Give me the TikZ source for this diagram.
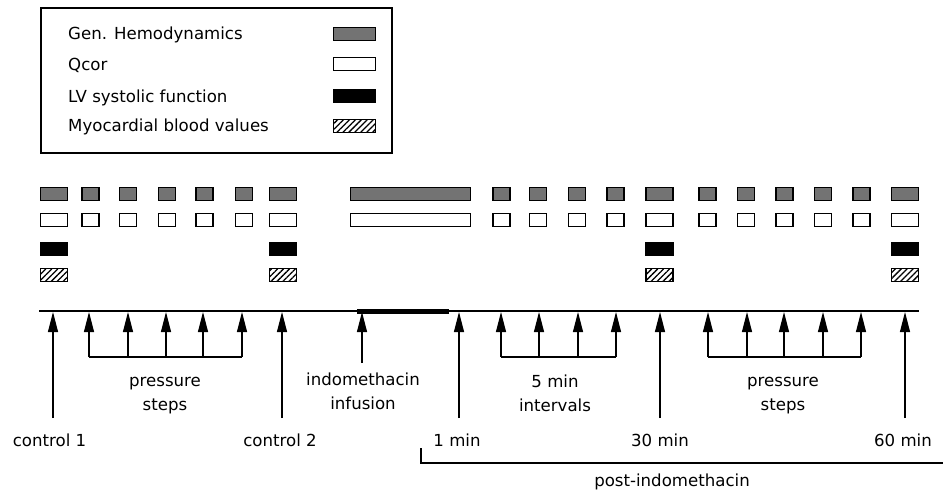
\documentclass[tikz,border=0pt]{standalone}
\usepackage{fontspec}
\setmainfont{DejaVu Sans}
\usetikzlibrary{positioning,arrows.meta,patterns.meta}

\begin{document}
\begin{tikzpicture}[x=1pt,y=-1pt,
  txt/.style={font=\fontsize{16.6}{24}\selectfont,inner sep=0pt,align=center},
  swatch/.style={draw=black,line width=1.3pt,minimum height=12.5pt,inner sep=0pt},
  hemo/.style={swatch,fill=black!55},
  qcor/.style={swatch,fill=white},
  lvf/.style={swatch,fill=black},
  myo/.style={swatch,pattern={Lines[angle=45,distance=4.2pt,line width=1.3pt]}},
  big/.style={minimum width=27pt},
  small/.style={minimum width=17pt},
  ptr/.style={-{Triangle[length=20pt,width=10pt]},line width=1.1pt}]
\useasboundingbox (0,0) rectangle (943,493);

% legend
\draw[line width=1.2pt] (41,8) rectangle (392,153);
\node[txt,anchor=base west] (lg1) at (68,39) {Gen. Hemodynamics};
\node[txt,anchor=base west] (lg2) at (68,70) {Qcor};
\node[txt,anchor=base west] (lg3) at (68,102) {LV systolic function};
\node[txt,anchor=base west] (lg4) at (68,131) {Myocardial blood values};
\node[hemo,minimum width=42pt] (ls1) at (354.5,34) {};
\node[qcor,minimum width=42pt] (ls2) at (354.5,64) {};
\node[lvf,minimum width=42pt] (ls3) at (354.5,96) {};
\node[myo,minimum width=42pt] (ls4) at (354.5,126) {};

% measurements
\foreach \x [count=\i] in {54,283,659.5,905}
{
\node[hemo,big] (hb\i) at (\x,194) {};
\node[qcor,big] (qb\i) at (\x,220) {};
\node[lvf,big] (vb\i) at (\x,249) {};
\node[myo,big] (mb\i) at (\x,275) {};
}
\foreach \x [count=\i] in {90.5,128,167,204.5,244,501.5,538,577,615.5,707.5,746,784.5,823,861.5}
{
\node[hemo,small] (hs\i) at (\x,194) {};
\node[qcor,small] (qs\i) at (\x,220) {};
}
\node[hemo,minimum width=120pt] (hl) at (410.5,194) {};
\node[qcor,minimum width=120pt] (ql) at (410.5,220) {};

% time line
\coordinate (t0) at (39,311);
\coordinate (t1) at (919,311);
\draw[line width=1.8pt] (t0) -- (t1);
\coordinate (inf0) at (357,311);
\coordinate (inf1) at (449,311);
\draw[line width=5pt] (inf0) -- (inf1);

% single time points
\foreach \x/\name/\lab in {49.5/c1/control 1,280/c2/control 2,457/m1/1 min,660/m30/30 min,903/m60/60 min}
\node[txt,anchor=base] (\name) at (\x,446) {\lab};
\foreach \x/\name in {53/c1,282/c2,459/m1,660/m30,905/m60}
{
\coordinate (\name b) at (\x,418);
\coordinate (\name t) at (\x,312);
\draw[ptr] (\name b) -- (\name t);
}
\coordinate (infb) at (362,363);
\coordinate (inft) at (362,312);
\draw[ptr] (infb) -- (inft);
\node[txt,anchor=base] (infl) at (363,409) {indomethacin\\infusion};

% grouped steps
\foreach \x [count=\i] in {89,128,166,203,242}
{
\coordinate (pa\i) at (\x,357);
\coordinate (pt\i) at (\x,312);
\draw[ptr] (pa\i) -- (pt\i);
}
\draw[line width=1.1pt] (pa1) -- (pa5);
\node[txt,anchor=base] (pal) at (165,410) {pressure\\steps};

\foreach \x [count=\i] in {501,539,578,616}
{
\coordinate (ia\i) at (\x,357);
\coordinate (it\i) at (\x,312);
\draw[ptr] (ia\i) -- (it\i);
}
\draw[line width=1.1pt] (ia1) -- (ia4);
\node[txt,anchor=base] (ial) at (555,411) {5 min\\intervals};

\foreach \x [count=\i] in {708,747,784,823,861}
{
\coordinate (pb\i) at (\x,357);
\coordinate (pu\i) at (\x,312);
\draw[ptr] (pb\i) -- (pu\i);
}
\draw[line width=1.1pt] (pb1) -- (pb5);
\node[txt,anchor=base] (pbl) at (783,410) {pressure\\steps};

% post-indomethacin
\coordinate (po0) at (421,448);
\coordinate (po1) at (943,463);
\draw[line width=1.1pt] (po0) |- (po1);
\node[txt,anchor=base] (pol) at (672,486) {post-indomethacin};
\end{tikzpicture}
\end{document}
